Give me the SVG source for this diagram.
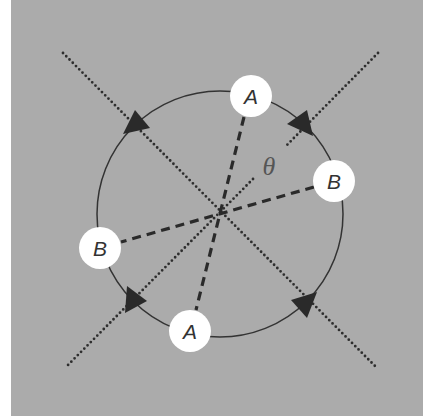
<svg xmlns="http://www.w3.org/2000/svg" width="423" height="417" viewBox="0 0 423 417">
<style>
.bg{fill:#ababab}
.ring{fill:none;stroke:#333;stroke-width:1.5}
.dot{fill:none;stroke:#2e2e2e;stroke-width:2.8;stroke-dasharray:0 4.6;stroke-linecap:round}
.dash{fill:none;stroke:#2a2a2a;stroke-width:3.2;stroke-dasharray:9 6}
.head{fill:#2a2a2a}
.node{fill:#fff}
.lbl{font-family:"Liberation Sans",Arial,sans-serif;font-style:italic;font-size:21px;fill:#333;text-anchor:middle}
.theta{font-family:"Liberation Serif","Times New Roman",serif;font-style:italic;font-size:26px;fill:#555;text-anchor:middle}
</style>
<rect x="0" y="0" width="423" height="417" fill="#fff"/>
<rect class="bg" x="11" y="0" width="412" height="416"/>
<circle class="ring" cx="220" cy="214" r="123"/>
<g id="connectors">
<path class="dot" d="M63,53 L376,367"/>
<path class="dot" d="M378,53 L285,147"/>
<path class="dot" d="M253,179 L66,367"/>
<path class="dash" d="M244,117 L196,310"/>
<path class="dash" d="M314,187 L121,242"/>
<polygon class="head" points="135,110 123,134 150,128"/>
<polygon class="head" points="287,124 307,110 313,136"/>
<polygon class="head" points="127,286 125,313 147,301"/>
<polygon class="head" points="317,292 291,300 307,318"/>
</g>
<g id="nodeA1"><circle class="node" cx="251" cy="96" r="21"/><text class="lbl" x="251" y="103.5">A</text></g>
<g id="nodeB1"><circle class="node" cx="334" cy="181" r="21"/><text class="lbl" x="334" y="188.5">B</text></g>
<g id="nodeB2"><circle class="node" cx="100" cy="248" r="21"/><text class="lbl" x="100" y="255.5">B</text></g>
<g id="nodeA2"><circle class="node" cx="190" cy="331" r="21"/><text class="lbl" x="190" y="338.5">A</text></g>
<g id="theta"><text class="theta" x="269" y="175">θ</text></g>
</svg>
